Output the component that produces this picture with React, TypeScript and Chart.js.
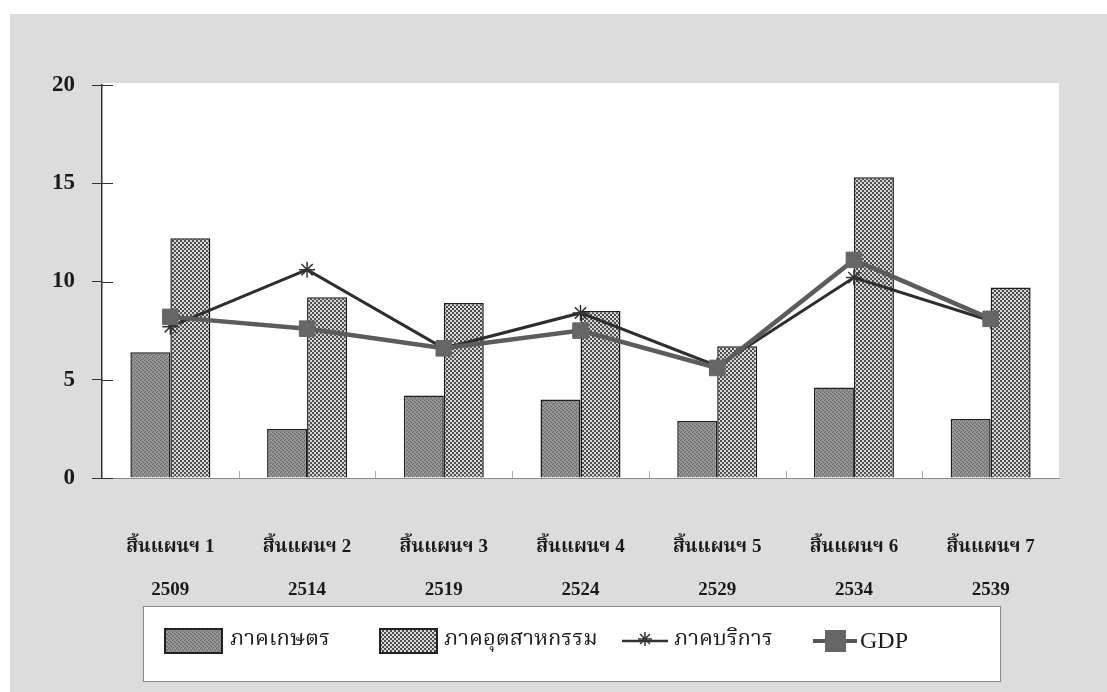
import React, { useEffect, useRef } from "react";
import { Chart, registerables } from "chart.js";

Chart.register(...registerables);

// ---------- data ----------
const planLabels = ["สิ้นแผนฯ 1", "สิ้นแผนฯ 2", "สิ้นแผนฯ 3", "สิ้นแผนฯ 4", "สิ้นแผนฯ 5", "สิ้นแผนฯ 6", "สิ้นแผนฯ 7"];
const yearLabels = ["2509", "2514", "2519", "2524", "2529", "2534", "2539"];
const agriculture = [6.4, 2.5, 4.2, 4.0, 2.9, 4.6, 3.0];
const industry = [12.2, 9.2, 8.9, 8.5, 6.7, 15.3, 9.7];
const services = [7.7, 10.6, 6.6, 8.4, 5.7, 10.2, 8.0];
const gdp = [8.2, 7.6, 6.6, 7.5, 5.6, 11.1, 8.1];
const yTickValues = [0, 5, 10, 15, 20];
const seriesNames = ["ภาคเกษตร", "ภาคอุตสาหกรรม", "ภาคบริการ", "GDP"];

const THAI_FONT = "'Noto Serif Thai', 'Noto Sans Thai', 'Noto Sans', 'DejaVu Sans', sans-serif";
const MIXED_FONT = "'Liberation Serif', 'Noto Serif Thai', 'Noto Sans Thai', serif";
const SERIF_FONT = "'Liberation Serif', 'DejaVu Serif', serif";

function makeAgriPattern(): CanvasPattern | string {
  const c = document.createElement("canvas");
  c.width = 4;
  c.height = 4;
  const ctx = c.getContext("2d");
  if (!ctx) return "#8a8a8a";
  ctx.fillStyle = "#8e8e8e";
  ctx.fillRect(0, 0, 4, 4);
  ctx.fillStyle = "#6a6a6a";
  ctx.fillRect(0, 0, 1, 1);
  ctx.fillRect(2, 1, 1, 1);
  ctx.fillRect(1, 3, 1, 1);
  ctx.fillRect(3, 2, 1, 1);
  ctx.fillStyle = "#a8a8a8";
  ctx.fillRect(3, 0, 1, 1);
  ctx.fillRect(1, 2, 1, 1);
  const p = ctx.createPattern(c, "repeat");
  return p || "#8a8a8a";
}

function makeIndustryPattern(): CanvasPattern | string {
  const c = document.createElement("canvas");
  c.width = 4;
  c.height = 4;
  const ctx = c.getContext("2d");
  if (!ctx) return "#a0a0a0";
  ctx.fillStyle = "#d8d8d8";
  ctx.fillRect(0, 0, 4, 4);
  ctx.fillStyle = "#4e4e4e";
  ctx.fillRect(0, 0, 2, 2);
  ctx.fillRect(2, 2, 2, 2);
  const p = ctx.createPattern(c, "repeat");
  return p || "#a0a0a0";
}

function drawStar(ctx: CanvasRenderingContext2D, x: number, y: number, r: number) {
  ctx.beginPath();
  for (let i = 0; i < 4; i++) {
    const a = (Math.PI / 4) * i;
    ctx.moveTo(x - Math.cos(a) * r, y - Math.sin(a) * r);
    ctx.lineTo(x + Math.cos(a) * r, y + Math.sin(a) * r);
  }
  ctx.stroke();
}

export default function App() {
  const canvasRef = useRef<HTMLCanvasElement | null>(null);

  useEffect(() => {
    document.body.style.margin = "0";
    const canvas = canvasRef.current;
    if (!canvas) return;
    const agriFill = makeAgriPattern();
    const indFill = makeIndustryPattern();

    const backgroundPlugin = {
      id: "bgPlugin",
      beforeDraw(chart: any) {
        const { ctx, chartArea } = chart;
        ctx.save();
        ctx.fillStyle = "#ffffff";
        ctx.fillRect(0, 0, chart.width, chart.height);
        ctx.fillStyle = "#dcdcdc";
        ctx.fillRect(10, 14, chart.width - 10, chart.height - 14);
        ctx.fillStyle = "#ffffff";
        ctx.fillRect(chartArea.left, chartArea.top - 2, chartArea.right - chartArea.left, chartArea.bottom - chartArea.top + 2);
        ctx.restore();
      },
      afterDraw(chart: any) {
        const { ctx, chartArea, scales } = chart;
        const ys = scales.y;
        const xs = scales.x;
        ctx.save();
        // inner y tick marks (crossing the axis)
        ctx.strokeStyle = "#333";
        ctx.lineWidth = 1;
        yTickValues.forEach((v) => {
          const py = Math.round(ys.getPixelForValue(v)) + 0.5;
          ctx.beginPath();
          ctx.moveTo(chartArea.left, py);
          ctx.lineTo(chartArea.left + 11, py);
          ctx.stroke();
        });
        // small category separators at the base
        ctx.strokeStyle = "#aaaaaa";
        for (let i = 1; i < planLabels.length; i++) {
          const px = Math.round((xs.getPixelForValue(i - 1) + xs.getPixelForValue(i)) / 2) + 0.5;
          ctx.beginPath();
          ctx.moveTo(px, chartArea.bottom - 7);
          ctx.lineTo(px, chartArea.bottom);
          ctx.stroke();
        }

        // legend
        const lx = 143, ly = 606, lw = 857, lh = 75;
        ctx.fillStyle = "#ffffff";
        ctx.fillRect(lx, ly, lw, lh);
        ctx.strokeStyle = "#8a8a8a";
        ctx.lineWidth = 1;
        ctx.strokeRect(lx + 0.5, ly + 0.5, lw, lh);
        const cy = 641;
        ctx.font = `22px ${THAI_FONT}`;
        ctx.textBaseline = "middle";
        ctx.textAlign = "left";
        // agriculture swatch
        ctx.fillStyle = agriFill as any;
        ctx.fillRect(165, 629, 57, 24);
        ctx.strokeStyle = "#222";
        ctx.lineWidth = 2;
        ctx.strokeRect(165, 629, 57, 24);
        ctx.fillStyle = "#1a1a1a";
        ctx.fillText(seriesNames[0], 230, cy);
        // industry swatch
        ctx.fillStyle = indFill as any;
        ctx.fillRect(380, 629, 57, 24);
        ctx.strokeStyle = "#222";
        ctx.strokeRect(380, 629, 57, 24);
        ctx.fillStyle = "#1a1a1a";
        ctx.fillText(seriesNames[1], 444, cy);
        // services line
        ctx.strokeStyle = "#333";
        ctx.lineWidth = 2.5;
        ctx.beginPath();
        ctx.moveTo(622, cy);
        ctx.lineTo(668, cy);
        ctx.stroke();
        ctx.lineWidth = 1.5;
        drawStar(ctx, 645, cy - 2, 7);
        ctx.fillStyle = "#1a1a1a";
        ctx.fillText(seriesNames[2], 674, cy);
        // GDP line
        ctx.strokeStyle = "#555";
        ctx.lineWidth = 4;
        ctx.beginPath();
        ctx.moveTo(813, cy);
        ctx.lineTo(857, cy);
        ctx.stroke();
        ctx.fillStyle = "#666";
        ctx.fillRect(825, cy - 11, 21, 22);
        ctx.fillStyle = "#1a1a1a";
        ctx.font = `24px ${SERIF_FONT}`;
        ctx.fillText(seriesNames[3], 860, cy + 1);
        ctx.restore();
      },
    };

    const chart = new Chart(canvas, {
      type: "bar",
      data: {
        labels: planLabels.map((p, i) => [p, yearLabels[i]]),
        datasets: [
          {
            type: "line",
            label: seriesNames[3],
            data: gdp,
            borderColor: "#5c5c5c",
            borderWidth: 4.5,
            pointStyle: "rect",
            pointRadius: 11,
            pointBackgroundColor: "#666666",
            pointBorderColor: "#666666",
            pointBorderWidth: 1,
            tension: 0,
            order: 0,
          } as any,
          {
            type: "line",
            label: seriesNames[2],
            data: services,
            borderColor: "#2e2e2e",
            borderWidth: 3,
            pointStyle: "star",
            pointRadius: 8,
            pointBorderColor: "#333",
            pointBorderWidth: 1.5,
            tension: 0,
            order: 1,
          } as any,
          {
            label: seriesNames[0],
            data: agriculture,
            backgroundColor: agriFill as any,
            borderColor: "#1e1e1e",
            borderWidth: 1.5,
            barPercentage: 1,
            categoryPercentage: 0.585,
            order: 2,
          },
          {
            label: seriesNames[1],
            data: industry,
            backgroundColor: indFill as any,
            borderColor: "#1e1e1e",
            borderWidth: 1.5,
            barPercentage: 1,
            categoryPercentage: 0.585,
            order: 2,
          },
        ],
      },
      options: {
        responsive: false,
        animation: false,
        devicePixelRatio: 1,
        layout: { padding: { top: 85, right: 48, left: 0, bottom: 0 } },
        plugins: {
          legend: { display: false },
          tooltip: { enabled: false },
        },
        scales: {
          x: {
            offset: true,
            grid: { display: false, drawTicks: false },
            border: { display: true, color: "#8a8a8a", width: 1 },
            ticks: {
              color: "#1a1a1a",
              padding: 48,
              maxRotation: 0,
              autoSkip: false,
              font: { family: MIXED_FONT, size: 19, weight: "bold", lineHeight: 2.25 },
            },
            afterFit(scale: any) {
              scale.height = 214;
            },
          },
          y: {
            min: 0,
            max: 20,
            afterBuildTicks(scale: any) {
              scale.ticks = yTickValues.map((v) => ({ value: v }));
            },
            grid: { drawOnChartArea: false, drawTicks: true, tickLength: 10, color: "#333" },
            border: { display: true, color: "#333", width: 1.5 },
            ticks: {
              color: "#1a1a1a",
              padding: 17,
              font: { family: SERIF_FONT, size: 23, weight: "bold" },
            },
            afterFit(scale: any) {
              scale.width = 102;
            },
          },
        },
      },
      plugins: [backgroundPlugin],
    });

    return () => {
      chart.destroy();
    };
  }, []);

  return (
    <div style={{ width: 1107, height: 692 }}>
      <canvas ref={canvasRef} width={1107} height={692} style={{ display: "block", width: 1107, height: 692 }} />
    </div>
  );
}
